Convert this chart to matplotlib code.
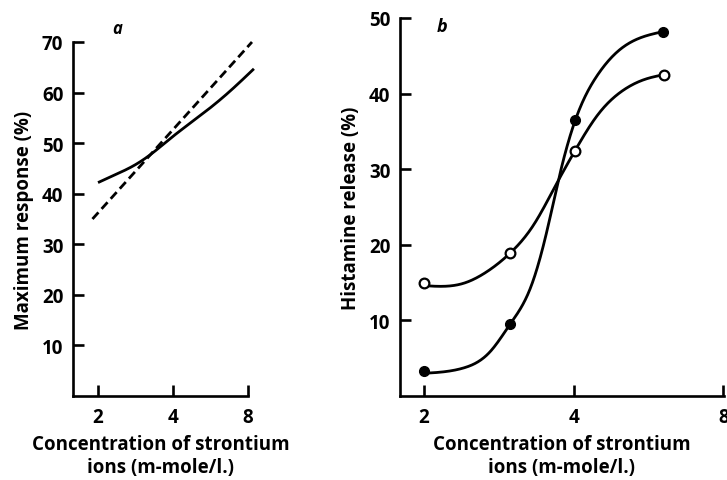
import numpy as np
import matplotlib
matplotlib.use("Agg")
import matplotlib.pyplot as plt

plt.rcParams['font.family'] = ['Open Sans', 'DejaVu Sans']
plt.rcParams['font.weight'] = 'bold'

# ---- Panel a data ----
a_solid_x = [2.0, 2.38, 2.77, 3.26, 3.99, 5.13, 6.57, 8.45]
a_solid_y = [42.2, 43.9, 45.5, 47.8, 51.3, 55.4, 59.7, 64.7]
a_dash_x = [1.9, 8.3]
a_dash_y = [35.0, 70.0]

# ---- Panel b data ----
b_filled_x = [2.0, 2.98, 4.03, 6.05]
b_filled_y = [3.3, 9.5, 36.5, 48.2]
b_open_x = [2.0, 2.98, 4.02, 6.07]
b_open_y = [15.0, 18.9, 32.4, 42.5]
# fitted curves
b_filled_curve_x = [2.0, 2.40, 2.72, 2.98, 3.27, 3.53, 3.76, 4.03, 4.46, 4.97, 5.63, 6.05]
b_filled_curve_y = [3.0, 3.7, 5.9, 9.5, 14.2, 21.7, 29.6, 36.5, 42.4, 45.9, 47.7, 48.2]
b_open_curve_x = [2.0, 2.40, 2.67, 2.98, 3.32, 3.71, 4.02, 4.46, 4.97, 5.63, 6.07]
b_open_curve_y = [14.6, 14.9, 16.4, 18.9, 22.6, 28.3, 32.4, 37.1, 40.2, 42.0, 42.5]

x_ticks = [2, 4, 8]
a_yticks = [10, 20, 30, 40, 50, 60, 70]
b_yticks = [10, 20, 30, 40, 50]
xlabel = "Concentration of strontium\nions (m-mole/l.)"


def smooth(xs, ys, n=400):
    """Natural cubic spline through the read points, in log2(x)."""
    x = np.log2(np.asarray(xs, float))
    y = np.asarray(ys, float)
    k = len(x)
    h = np.diff(x)
    A = np.zeros((k, k))
    r = np.zeros(k)
    A[0, 0] = A[-1, -1] = 1.0
    for i in range(1, k - 1):
        A[i, i - 1] = h[i - 1]
        A[i, i] = 2 * (h[i - 1] + h[i])
        A[i, i + 1] = h[i]
        r[i] = 6 * ((y[i + 1] - y[i]) / h[i] - (y[i] - y[i - 1]) / h[i - 1])
    M = np.linalg.solve(A, r)
    xx = np.linspace(x[0], x[-1], n)
    idx = np.clip(np.searchsorted(x, xx) - 1, 0, k - 2)
    x0, x1 = x[idx], x[idx + 1]
    hh = x1 - x0
    a = (x1 - xx) / hh
    b = (xx - x0) / hh
    yy = (a * y[idx] + b * y[idx + 1]
          + ((a**3 - a) * M[idx] + (b**3 - b) * M[idx + 1]) * hh**2 / 6)
    return 2 ** xx, yy


fig = plt.figure(figsize=(7.27, 4.81), dpi=100)
ax1 = fig.add_axes([73 / 727, 1 - 397 / 481, 175 / 727, 354 / 481])
ax2 = fig.add_axes([400 / 727, 1 - 397 / 481, 324 / 727, 378 / 481])

for ax in (ax1, ax2):
    ax.set_xscale('log', base=2)
    ax.spines['top'].set_visible(False)
    ax.spines['right'].set_visible(False)
    for s in ('left', 'bottom'):
        ax.spines[s].set_linewidth(1.9)
    ax.set_xticks(x_ticks)
    ax.set_xticklabels([str(t) for t in x_ticks])
    ax.minorticks_off()
    ax.tick_params(axis='both', direction='in', length=8, width=1.9, labelsize=13.5)
    ax.tick_params(axis='x', pad=8)
    ax.tick_params(axis='y', pad=7)
    for lab in ax.get_xticklabels() + ax.get_yticklabels():
        lab.set_fontweight('bold')
    ax.set_xlabel(xlabel, fontsize=13.5, fontweight='bold', labelpad=5, linespacing=1.2)

# Panel a
ax1.set_xlim(1.587, 8.0)
ax1.set_ylim(0, 70)
ax1.set_yticks(a_yticks)
ax1.set_yticklabels([str(t) for t in a_yticks], fontweight='bold')
sx, sy = smooth(a_solid_x, a_solid_y)
ax1.plot(sx, sy, color='black', lw=2.0, clip_on=False, solid_capstyle='butt')
ax1.plot(a_dash_x, a_dash_y, color='black', lw=2.0, dashes=(3.2, 1.7), clip_on=False)
ax1.set_ylabel("Maximum response (%)", fontsize=13.5, fontweight='bold', labelpad=6)
ax1.text(0.25, 1.04, "a", transform=ax1.transAxes, fontsize=12, fontweight='bold',
         style='italic', ha='center', va='center')

# Panel b
ax2.set_xlim(1.79, 8.02)
ax2.set_ylim(0, 50)
ax2.set_yticks(b_yticks)
ax2.set_yticklabels([str(t) for t in b_yticks], fontweight='bold')
fx, fy = smooth(b_filled_curve_x, b_filled_curve_y)
ax2.plot(fx, fy, color='black', lw=2.0, clip_on=False)
ox, oy = smooth(b_open_curve_x, b_open_curve_y)
ax2.plot(ox, oy, color='black', lw=2.0, clip_on=False)
ax2.plot(b_filled_x, b_filled_y, 'o', color='black', ms=7, clip_on=False, zorder=5)
ax2.plot(b_open_x, b_open_y, 'o', mfc='white', mec='black', mew=1.6, ms=7, clip_on=False, zorder=5)
ax2.set_ylabel("Histamine release (%)", fontsize=13.5, fontweight='bold', labelpad=6)
ax2.text(0.13, 0.979, "b", transform=ax2.transAxes, fontsize=13, fontweight='bold',
         style='italic', ha='center', va='center')

fig.savefig("out.png", dpi=100)
